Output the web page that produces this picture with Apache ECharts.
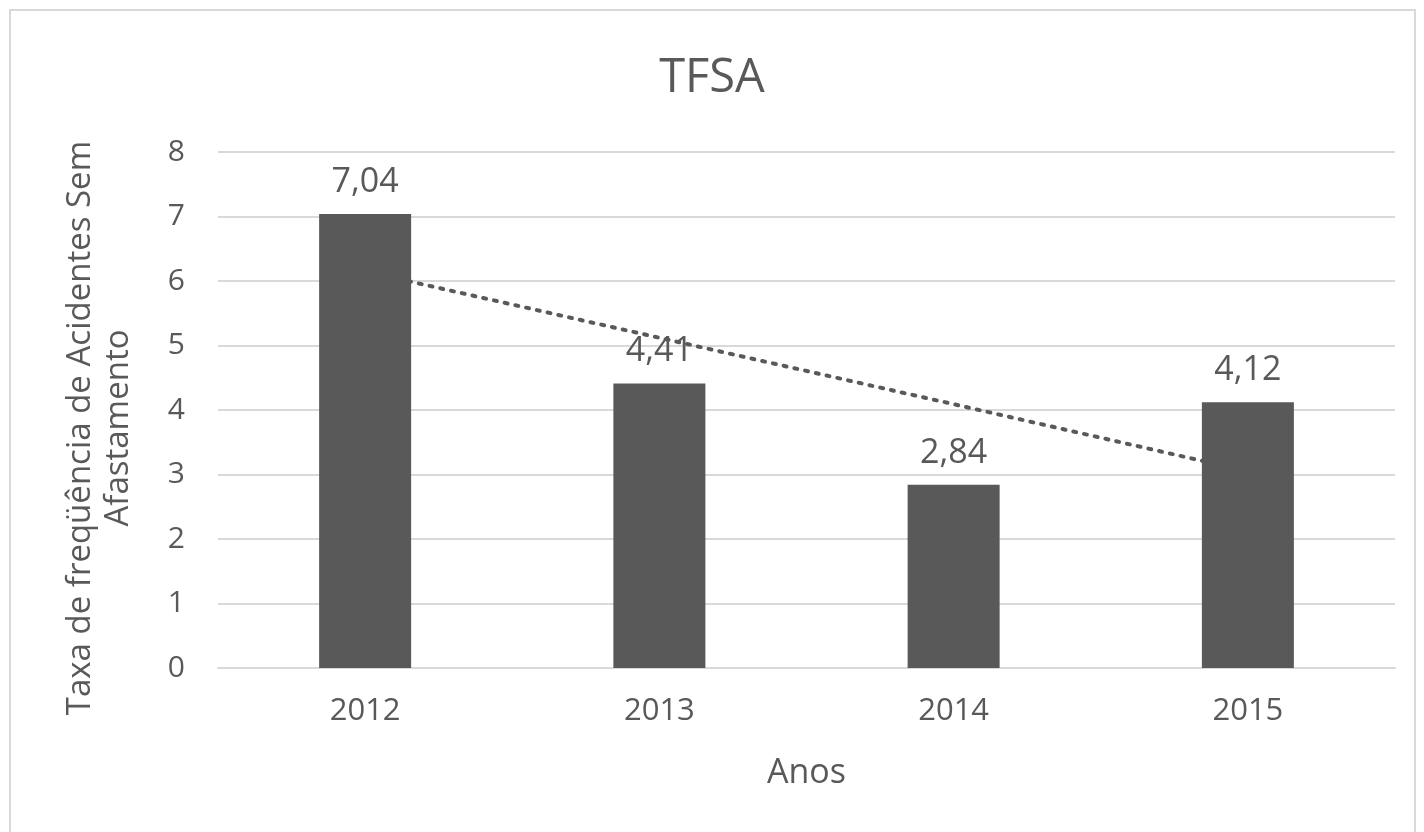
<!DOCTYPE html>
<html>
<head>
<meta charset="utf-8">
<script src="https://cdn.jsdelivr.net/npm/echarts@6/dist/echarts.min.js"></script>
<style>
  html, body { margin: 0; padding: 0; background: #fff; }
  .frame {
    position: absolute; left: 9px; top: 9px; width: 1407px; height: 830px;
    border: 2px solid #d9d9d9; box-sizing: border-box;
  }
  #chart { width: 1424px; height: 832px; position: absolute; left: 0; top: 0; }
</style>
</head>
<body>
<div class="frame"></div>
<div id="chart"></div>
<script>
const anos = ['2012', '2013', '2014', '2015']
const tfsa = [7.04, 4.41, 2.84, 4.12]
// linha de tendência
const tendencia = [6.15, 5.12, 4.09, 3.05]

const textColor = '#595959'
const fontFamily = '"Open Sans", "Noto Sans", sans-serif'

const chart = echarts.init(document.getElementById('chart'))
chart.setOption({
  animation: false,
  textStyle: { fontFamily },
  title: {
    text: 'TFSA',
    left: 'center',
    top: 50,
    textStyle: { color: textColor, fontSize: 47, fontWeight: 'normal', fontFamily }
  },
  grid: { left: 218, right: 29, top: 152, bottom: 164 },
  xAxis: {
    type: 'category',
    data: anos,
    name: 'Anos',
    nameLocation: 'middle',
    nameGap: 88,
    nameTextStyle: { color: textColor, fontSize: 34, fontFamily },
    axisLine: { lineStyle: { color: '#d9d9d9', width: 2 } },
    axisTick: { show: false },
    axisLabel: { color: textColor, fontSize: 31, margin: 28, fontFamily }
  },
  yAxis: {
    type: 'value',
    min: 0,
    max: 8,
    interval: 1,
    name: 'Taxa de freqüência de Acidentes Sem\nAfastamento',
    nameLocation: 'middle',
    nameRotate: 90,
    nameGap: 80,
    nameTextStyle: { color: textColor, fontSize: 33, lineHeight: 38, fontFamily, padding: [0, 36, 0, 0] },
    axisLine: { show: false },
    axisTick: { show: false },
    axisLabel: { color: textColor, fontSize: 30, margin: 33, fontFamily },
    splitLine: { lineStyle: { color: '#d9d9d9', width: 2 } }
  },
  series: [
    {
      type: 'line',
      data: tendencia,
      z: 1,
      symbol: 'none',
      silent: true,
      lineStyle: { color: textColor, width: 4, type: [3, 8], cap: 'round' }
    },
    {
      type: 'bar',
      data: tfsa,
      z: 2,
      barWidth: 92,
      itemStyle: { color: '#595959' },
      label: {
        show: true,
        position: 'top',
        distance: 15,
        color: textColor,
        fontSize: 34,
        fontFamily,
        formatter: p => p.value.toFixed(2).replace('.', ',')
      }
    }
  ]
})
</script>
</body>
</html>
